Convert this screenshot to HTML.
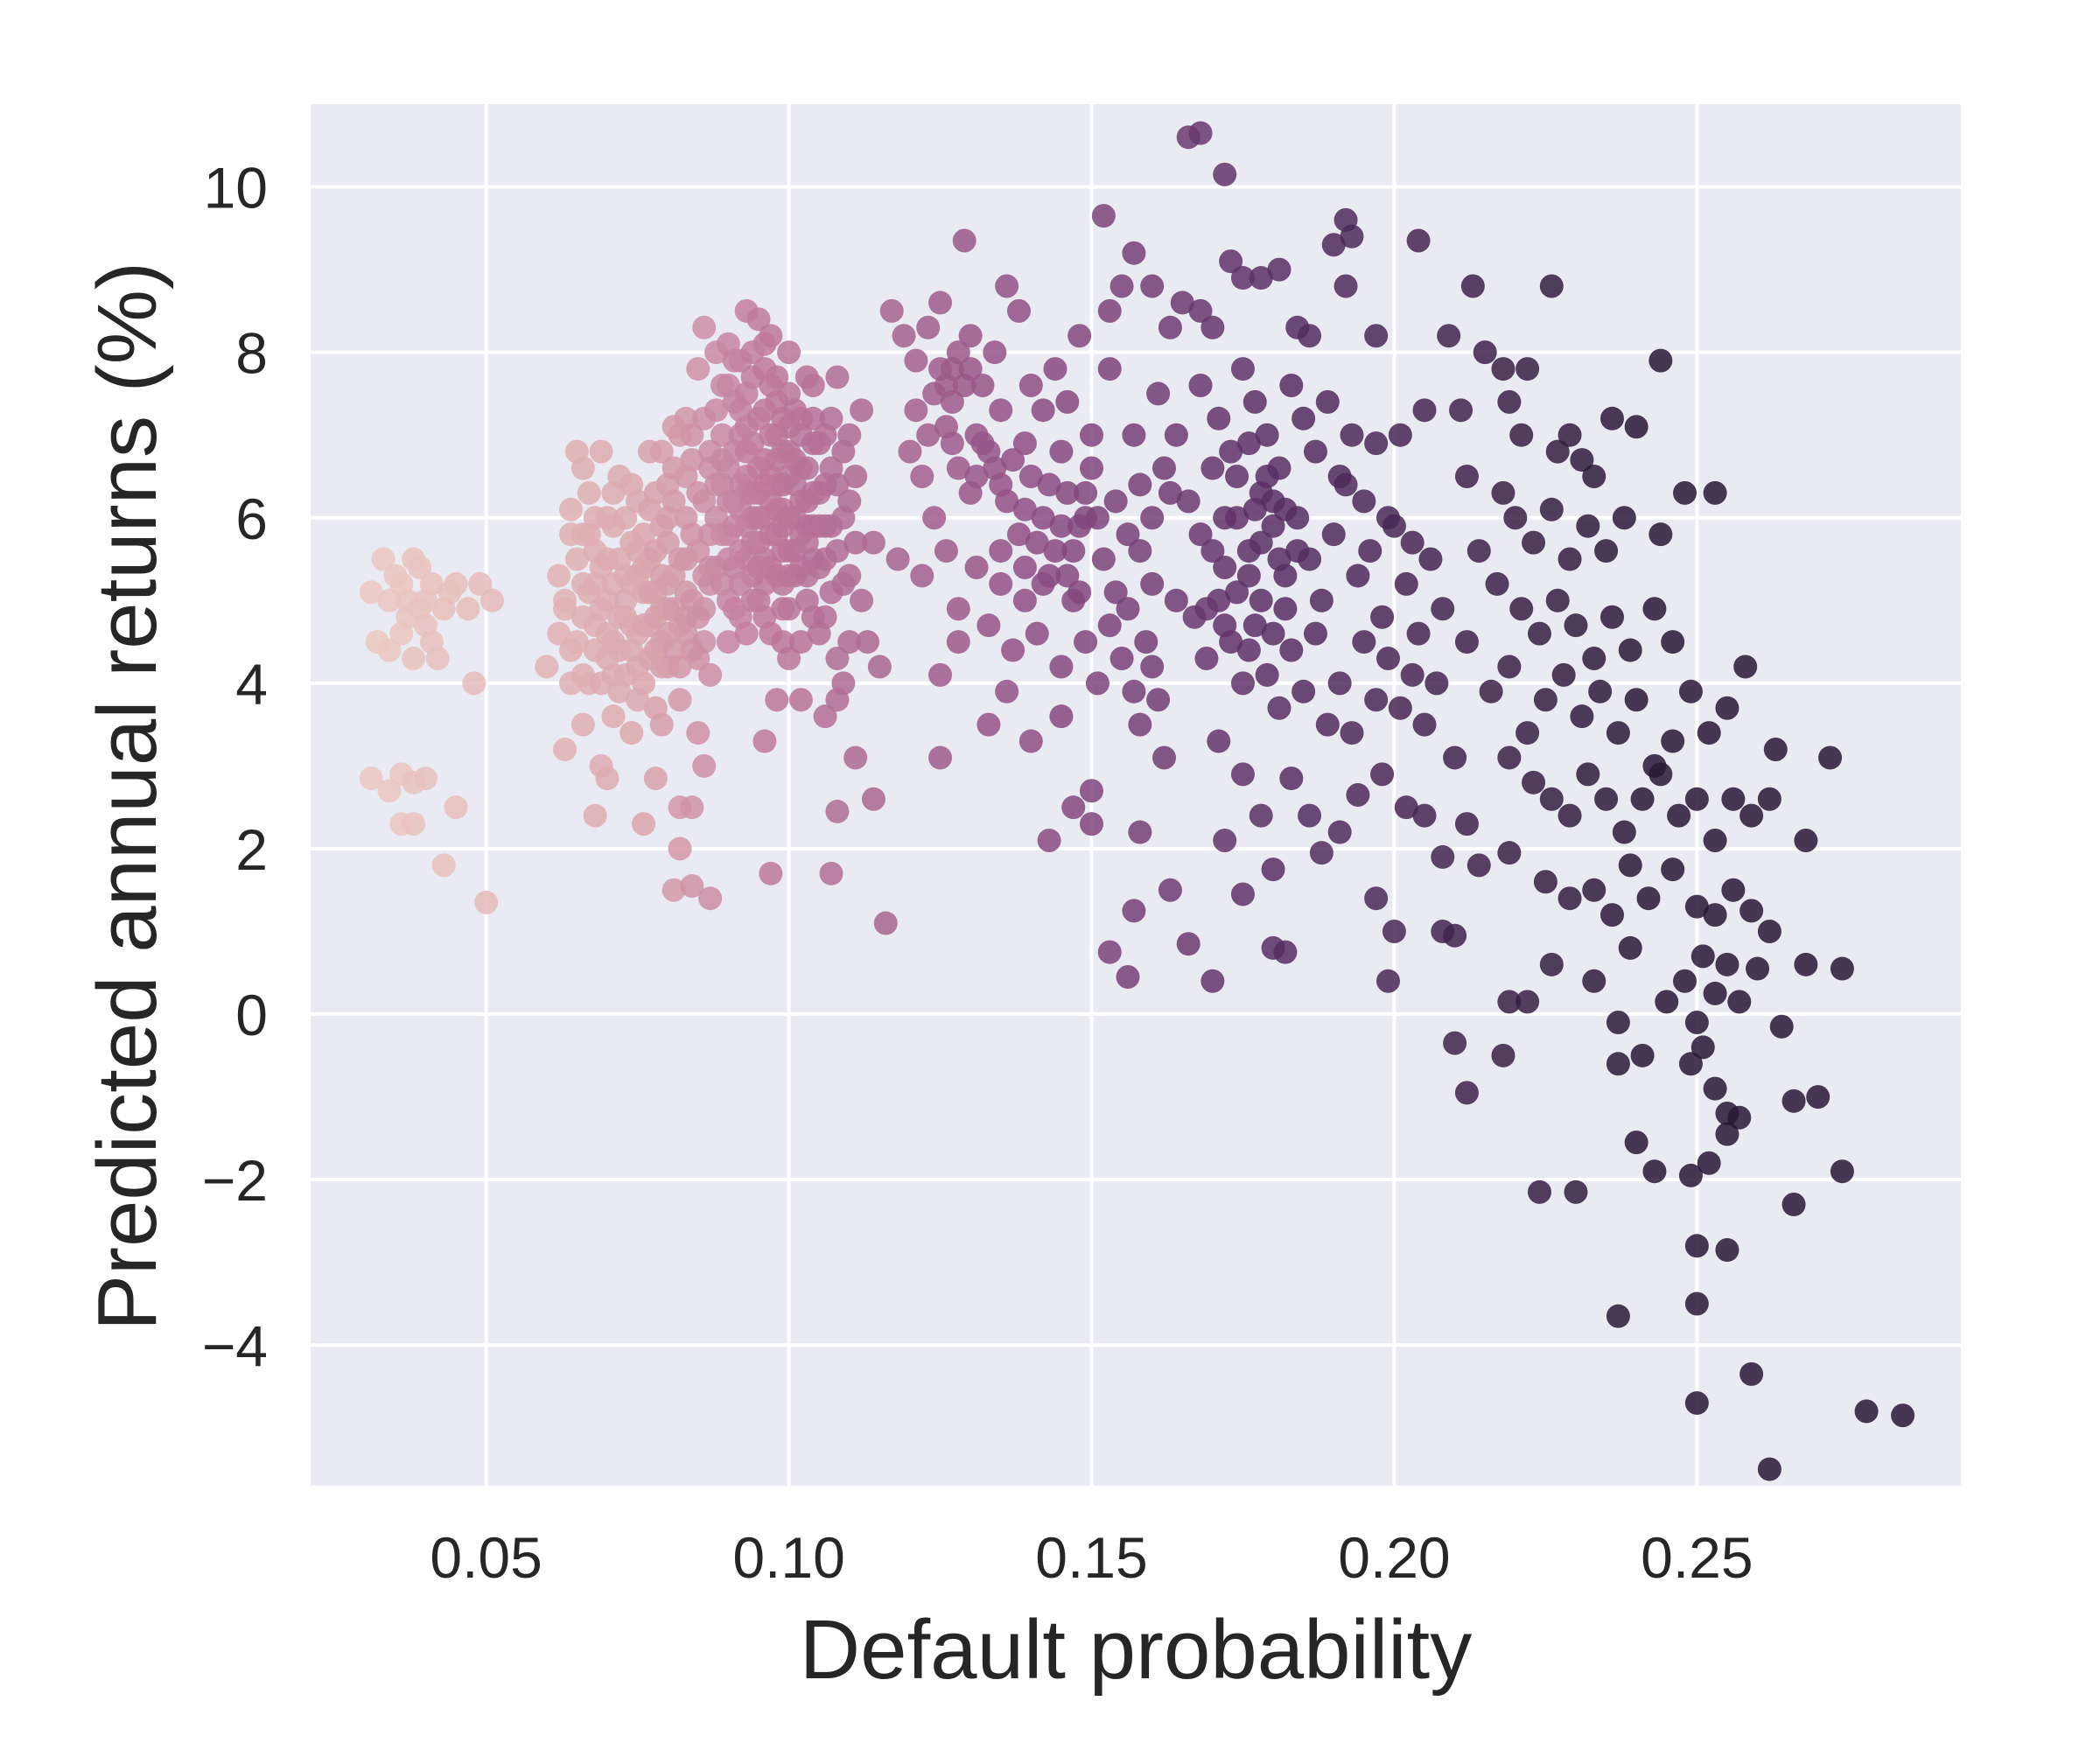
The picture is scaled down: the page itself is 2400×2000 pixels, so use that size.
<!DOCTYPE html>
<html><head><meta charset="utf-8">
<style>html,body{margin:0;padding:0;background:#fff}svg{display:block}text{font-family:"Liberation Sans",Arial,sans-serif;fill:#262626}</style>
</head><body>
<svg id="chart" width="2400" height="2000" viewBox="0 0 2400 2000" xmlns="http://www.w3.org/2000/svg">
<rect x="355" y="119" width="1886" height="1579" fill="#eaeaf2"/>
<g id="grid"></g>
<g id="points"></g>
<g id="ticks"></g>
<text x="1298" y="1918" font-size="96" text-anchor="middle">Default probability</text>
<text x="0" y="0" font-size="96" text-anchor="middle" transform="translate(178,910) rotate(-90)">Predicted annual returns (%)</text>
</svg>
<script>
const xTicks=[0.05,0.10,0.15,0.20,0.25];
const xTickLabels=["0.05","0.10","0.15","0.20","0.25"];
const yTicks=[-4,-2,0,2,4,6,8,10];
const yTickLabels=["\u22124","\u22122","0","2","4","6","8","10"];
const pointData="0.031 5.1,0.033 5.5,0.035 5.3,0.037 5.0,0.039 5.4,0.041 5.2,0.043 4.9,0.036 4.6,0.034 4.4,0.038 4.3,0.040 4.7,0.042 4.3,0.045 5.2,0.047 4.9,0.049 5.2,0.051 5.0,0.032 4.5,0.039 4.9,0.044 5.1,0.048 4.0,0.031 2.85,0.034 2.7,0.036 2.9,0.038 2.8,0.040 2.85,0.036 2.3,0.038 2.3,0.045 2.5,0.043 1.8,0.050 1.35,0.034 5.0,0.036 5.2,0.038 5.5,0.040 5.0,0.041 4.5,0.037 4.8,"+
"0.060 4.2,0.062 5.3,0.063 4.9,0.064 5.8,0.065 4.5,0.065 6.8,0.066 5.2,0.066 3.5,0.067 6.3,0.067 4.0,0.068 5.6,0.068 4.7,0.069 6.8,0.069 3.0,0.070 5.0,0.070 4.3,0.071 5.9,0.071 3.6,0.072 4.8,0.072 6.5,0.073 5.3,0.073 4.1,0.074 5.7,0.074 3.4,0.075 4.6,0.075 6.2,0.076 5.1,0.076 4.0,0.077 6.8,0.077 5.5,0.078 4.4,0.078 3.7,0.079 5.9,0.079 4.9,0.080 6.4,0.080 4.2,0.081 5.3,0.081 7.1,0.082 4.7,0.082 3.8,0.083 6.0,0.083 5.1,0.084 4.4,0.084 6.7,0.085 5.6,0.085 3.4,0.086 4.9,0.086 6.2,0.087 4.1,0.087 5.4,0.068 2.4,0.070 2.85,0.076 2.3,0.078 2.85,0.082 2.0,0.082 2.5,0.084 2.5,0.081 1.5,0.084 1.55,0.087 1.4,0.086 3.0,0.079 3.5,0.063 3.2,0.064 6.1,0.066 6.6,0.069 5.4,0.071 4.5,0.073 4.8,0.075 5.3,0.077 4.7,0.079 4.2,0.080 5.7,0.062 4.6,0.064 4.0,0.067 5.1,0.070 5.5,0.072 3.9,0.074 4.4,0.076 5.8,0.078 5.1,0.080 4.9,0.083 4.6,0.085 4.3,0.087 6.8,0.083 7.2,0.085 7.8,"+
"0.063 5.0,0.064 4.4,0.065 5.5,0.066 4.8,0.066 4.1,0.067 5.8,0.068 4.4,0.068 5.2,0.069 4.9,0.069 4.0,0.070 4.6,0.070 6.0,0.071 5.2,0.071 4.1,0.072 5.5,0.072 4.4,0.073 5.0,0.073 6.0,0.074 4.7,0.074 5.2,0.075 4.2,0.075 5.6,0.075 3.8,0.076 4.7,0.076 5.4,0.077 4.3,0.077 5.1,0.078 4.8,0.078 5.6,0.079 4.5,0.079 5.3,0.080 4.6,0.080 5.2,0.080 6.0,0.081 4.4,0.081 4.9,0.081 6.2,0.082 5.5,0.082 4.2,0.083 4.8,0.083 5.5,0.083 6.5,0.084 5.0,0.084 5.8,0.085 4.8,0.085 6.3,0.086 5.3,0.086 4.5,0.078 6.3,0.079 6.8,0.081 6.6,0.082 7.0,0.084 7.0,0.077 6.1,0.074 6.4,0.071 6.3,0.068 6.0,0.066 5.8,"+
"0.086 8.3,0.088 8.0,0.089 7.6,0.090 8.1,0.092 7.9,0.093 8.5,0.095 8.4,0.096 8.1,0.098 7.7,0.100 7.5,0.102 7.2,0.104 7.6,0.106 7.0,0.108 7.7,0.110 7.0,0.086 7.2,0.087 6.6,0.088 6.0,0.088 5.4,0.089 7.0,0.089 6.4,0.090 5.8,0.090 5.0,0.091 7.4,0.091 6.8,0.091 6.2,0.092 5.6,0.092 4.8,0.093 7.1,0.093 6.5,0.093 5.9,0.094 5.3,0.094 7.7,0.094 6.9,0.095 6.3,0.095 5.7,0.095 5.0,0.096 7.3,0.096 6.7,0.096 6.0,0.097 5.4,0.097 4.6,0.097 7.6,0.098 7.0,0.098 6.4,0.098 5.8,0.099 5.2,0.099 6.8,0.099 6.1,0.100 7.1,0.100 6.5,0.100 5.6,0.100 4.9,0.101 6.0,0.101 5.3,0.102 6.6,0.102 5.8,0.103 6.2,0.103 5.0,0.104 6.9,0.104 5.5,0.105 6.3,0.105 4.6,0.106 5.9,0.107 6.6,0.107 5.1,0.108 4.3,0.109 6.0,0.110 5.3,0.111 6.5,0.112 5.0,0.113 4.5,0.114 5.7,0.112 7.3,0.108 3.8,0.106 3.6,0.102 3.8,0.098 3.8,0.096 3.3,0.097 1.7,0.107 1.7,0.108 2.45,0.111 3.1,0.114 2.6,0.116 1.1,0.090 5.5,0.092 6.1,0.094 6.0,0.096 5.5,0.098 6.1,0.089 5.8,0.091 5.9,0.093 6.3,0.095 6.6,0.097 6.2,0.099 5.6,0.101 6.7,0.103 5.7,0.105 5.4,0.087 5.2,0.092 7.3,0.094 5.0,0.096 4.8,0.100 4.3,0.104 4.8,0.110 4.5,0.115 4.2,"+
"0.088 7.3,0.089 6.7,0.089 5.2,0.090 7.6,0.090 6.2,0.091 5.4,0.091 7.9,0.092 7.0,0.092 6.4,0.092 5.2,0.093 7.5,0.093 5.5,0.093 6.8,0.094 6.3,0.094 5.7,0.095 7.2,0.095 6.0,0.095 5.4,0.096 7.8,0.096 6.4,0.096 5.2,0.097 7.0,0.097 5.8,0.097 6.5,0.098 7.4,0.098 6.7,0.098 5.3,0.099 7.2,0.099 6.4,0.099 5.9,0.099 4.9,0.100 6.8,0.100 6.0,0.100 5.3,0.101 7.3,0.101 6.4,0.101 5.6,0.102 7.0,0.102 6.2,0.102 5.4,0.103 6.6,0.103 5.9,0.103 5.3,0.104 7.2,0.104 6.3,0.104 5.9,0.105 6.9,0.105 5.9,0.106 6.4,0.106 5.5,0.107 7.2,0.107 5.9,0.108 6.4,0.108 5.6,0.109 6.8,0.109 5.2,0.110 6.2,0.111 5.7,0.087 5.8,0.088 6.4,0.090 6.6,0.091 4.9,0.094 8.0,0.097 8.2,0.100 8.0,0.103 7.7,0.090 4.5,0.093 4.6,0.099 4.5,0.102 4.5,0.106 4.8,0.109 4.0,"+
"0.117 8.5,0.119 8.2,0.121 7.9,0.123 8.3,0.125 8.6,0.124 7.5,0.127 7.8,0.129 9.35,0.130 8.2,0.132 7.6,0.134 8.0,0.136 8.8,0.138 8.5,0.140 7.6,0.142 7.3,0.144 7.8,0.146 7.4,0.148 8.2,0.150 7.0,0.152 9.65,0.153 8.5,0.155 8.8,0.157 9.2,0.120 6.8,0.122 6.5,0.124 6.0,0.126 7.1,0.128 6.6,0.130 6.3,0.132 6.9,0.134 6.6,0.136 6.2,0.138 5.8,0.140 6.5,0.142 6.0,0.144 5.6,0.146 6.3,0.148 5.9,0.150 6.6,0.152 5.5,0.154 6.2,0.156 5.8,0.158 6.4,0.160 5.2,0.118 5.5,0.122 5.3,0.126 5.6,0.128 4.9,0.131 5.4,0.133 4.7,0.135 5.2,0.137 4.4,0.139 5.0,0.141 4.6,0.143 5.3,0.145 4.2,0.147 5.0,0.149 4.5,0.151 4.0,0.153 4.7,0.155 4.3,0.157 3.9,0.159 4.5,0.161 3.8,0.125 4.1,0.128 4.5,0.133 3.5,0.136 3.9,0.140 3.3,0.145 3.6,0.147 2.5,0.150 2.3,0.143 2.1,0.150 2.7,0.153 0.75,0.156 0.45,0.158 2.2,0.157 1.25,0.163 1.5,0.166 0.85,0.170 0.4,0.125 3.1,0.139 6.9,0.135 7.3,0.131 7.0,0.127 7.4,0.145 6.8,0.149 6.0,0.153 7.8,0.157 7.0,0.161 7.5,0.163 8.3,0.165 8.6,0.160 8.8,0.162 6.6,0.164 5.0,0.160 4.2,0.158 3.5,0.162 3.1,"+
"0.121 7.3,0.123 7.0,0.125 7.8,0.127 6.9,0.129 7.6,0.131 6.5,0.133 6.8,0.135 6.4,0.137 6.7,0.139 6.1,0.141 5.7,0.143 6.4,0.145 5.9,0.147 5.6,0.149 6.3,0.151 6.0,0.130 7.8,0.128 8.0,0.126 7.6,0.135 5.6,0.139 5.4,0.142 5.2,0.146 5.3,0.148 5.1,0.154 5.1,0.156 4.9,0.158 5.6,0.160 6.0,0.163 6.3,0.164 7.0,"+
"0.166 10.6,0.168 10.65,0.172 10.15,0.168 8.5,0.170 8.3,0.173 9.1,0.175 8.9,0.178 8.9,0.181 9.0,0.184 8.3,0.186 8.2,0.190 9.3,0.192 9.6,0.193 9.4,0.192 8.8,0.197 8.2,0.204 9.35,0.168 7.6,0.171 7.2,0.173 6.8,0.175 7.8,0.177 7.4,0.179 7.0,0.181 6.6,0.183 7.6,0.185 7.2,0.187 6.8,0.189 7.4,0.191 6.5,0.193 7.0,0.195 6.2,0.197 6.9,0.199 6.0,0.201 7.0,0.203 5.7,0.205 7.3,0.166 6.2,0.168 5.8,0.170 6.6,0.172 5.4,0.174 6.0,0.176 5.6,0.178 6.3,0.180 5.9,0.182 5.3,0.184 6.0,0.186 5.5,0.188 5.0,0.190 5.8,0.192 6.4,0.194 5.3,0.196 5.6,0.198 4.8,0.200 5.9,0.202 5.2,0.204 4.6,0.206 5.5,0.208 4.9,0.167 4.8,0.169 4.3,0.171 5.0,0.173 4.5,0.175 4.0,0.177 4.7,0.179 4.1,0.181 3.7,0.183 4.4,0.185 3.9,0.187 4.6,0.189 3.5,0.191 4.0,0.193 3.4,0.195 4.5,0.197 3.8,0.199 4.3,0.201 3.7,0.203 4.1,0.205 3.5,0.207 4.0,0.210 3.1,0.171 3.3,0.175 2.9,0.178 2.4,0.172 2.1,0.175 1.45,0.180 1.75,0.183 2.85,0.186 2.4,0.188 1.95,0.191 2.2,0.194 2.65,0.197 1.4,0.198 2.9,0.200 1.0,0.202 2.5,0.205 2.4,0.199 0.4,0.180 0.8,0.182 0.75,0.208 1.0,0.210 0.95,0.208 1.9,0.212 2.3,"+
"0.174 6.5,0.176 6.9,0.177 6.1,0.178 5.7,0.179 6.5,0.180 6.2,0.181 5.5,0.176 5.3,0.174 5.1,0.172 6.0,0.170 5.6,0.182 6.1,0.184 5.6,0.178 5.0,0.180 4.6,0.182 4.9,0.176 4.4,0.172 4.7,0.169 4.9,"+
"0.213 8.8,0.226 8.8,0.215 8.0,0.218 7.8,0.222 7.8,0.209 8.2,0.211 7.3,0.219 7.4,0.221 7.0,0.227 6.8,0.229 7.0,0.231 6.7,0.233 6.5,0.236 7.2,0.240 7.1,0.244 7.9,0.212 6.5,0.218 6.3,0.220 6.0,0.223 5.7,0.226 6.1,0.229 5.5,0.232 5.9,0.235 5.6,0.238 6.0,0.244 5.8,0.248 6.3,0.253 6.3,0.214 5.6,0.217 5.2,0.221 4.9,0.224 4.6,0.227 5.0,0.230 4.7,0.233 4.3,0.236 4.8,0.239 4.4,0.243 4.9,0.246 4.5,0.212 4.5,0.216 3.9,0.219 4.2,0.222 3.4,0.225 3.8,0.228 4.1,0.231 3.6,0.234 3.9,0.237 3.4,0.240 3.8,0.243 3.0,0.246 3.3,0.249 3.9,0.252 3.4,0.255 3.7,0.258 4.2,0.219 3.1,0.223 2.8,0.226 2.6,0.229 2.4,0.232 2.9,0.235 2.6,0.238 2.2,0.241 2.6,0.244 2.9,0.247 2.4,0.250 2.6,0.253 2.1,0.256 2.6,0.259 2.4,0.262 2.6,0.263 3.2,0.268 2.1,0.272 3.1,0.214 1.8,0.219 1.95,0.225 1.6,0.229 1.4,0.233 1.5,0.236 1.2,0.239 1.8,0.242 1.4,0.246 1.75,0.250 1.3,0.253 1.2,0.256 1.5,0.259 1.25,0.262 1.0,0.226 0.6,0.233 0.4,0.239 0.8,0.245 0.15,0.248 0.4,0.251 0.7,0.253 0.25,0.255 0.6,0.257 0.15,0.260 0.55,0.268 0.6,0.274 0.55,0.219 0.15,0.222 0.15,0.210 -0.35,0.218 -0.5,0.237 -0.1,0.237 -0.6,0.241 -0.5,0.249 -0.6,0.250 -0.1,0.251 -0.4,0.253 -0.9,0.255 -1.2,0.257 -1.25,0.264 -0.15,0.266 -1.05,0.270 -1.0,0.212 -0.95,0.224 -2.15,0.230 -2.15,0.240 -1.55,0.243 -1.9,0.249 -1.95,0.252 -1.8,0.255 -1.45,0.274 -1.9,0.250 -2.8,0.255 -2.85,0.266 -2.3,0.237 -3.65,0.250 -3.5,0.259 -4.35,0.250 -4.7,0.278 -4.8,0.284 -4.85,0.262 -5.5";
const probs=[],returns=[];
pointData.split(",").forEach(function(s){const p=s.trim().split(" ");probs.push(+p[0]);returns.push(+p[1]);});

const L=355,R=2241,T=119,B=1698;
const xMin=0.0210,xMax=0.2936,yMin=-5.7,yMax=11.0;
function sx(v){return L+(v-xMin)/(xMax-xMin)*(R-L);}
function sy(v){return B-(v-yMin)/(yMax-yMin)*(B-T);}
const NS="http://www.w3.org/2000/svg";
const stops=[[0.03,[236,201,194]],[0.075,[219,168,174]],[0.095,[192,122,156]],[0.14,[141,77,132]],[0.18,[88,46,100]],[0.24,[40,24,54]]];
function col(v){
  if(v<=stops[0][0])return stops[0][1];
  for(let i=1;i<stops.length;i++){if(v<=stops[i][0]){const a=stops[i-1],b=stops[i],t=(v-a[0])/(b[0]-a[0]);return a[1].map((c,k)=>Math.round(c+(b[1][k]-c)*t));}}
  return stops[stops.length-1][1];
}
const grid=document.getElementById('grid'),ticks=document.getElementById('ticks'),pts=document.getElementById('points');
xTicks.forEach(function(v,i){
  const ln=document.createElementNS(NS,'line');
  ln.setAttribute('x1',sx(v));ln.setAttribute('x2',sx(v));ln.setAttribute('y1',T);ln.setAttribute('y2',B);
  ln.setAttribute('stroke','#fff');ln.setAttribute('stroke-width','4');
  
  
  grid.appendChild(ln);
  const t=document.createElementNS(NS,'text');
  t.setAttribute('x',sx(v));t.setAttribute('y',1803);t.setAttribute('font-size','66');t.setAttribute('text-anchor','middle');
  t.textContent=xTickLabels[i];
  
  
  ticks.appendChild(t);
});
yTicks.forEach(function(v,i){
  const ln=document.createElementNS(NS,'line');
  ln.setAttribute('y1',sy(v));ln.setAttribute('y2',sy(v));ln.setAttribute('x1',L);ln.setAttribute('x2',R);
  ln.setAttribute('stroke','#fff');ln.setAttribute('stroke-width','4');
  
  
  grid.appendChild(ln);
  const t=document.createElementNS(NS,'text');
  t.setAttribute('x',306);t.setAttribute('y',sy(v)+24);t.setAttribute('font-size','66');t.setAttribute('text-anchor','end');
  t.textContent=yTickLabels[i];
  
  
  ticks.appendChild(t);
});
probs.forEach(function(p,i){
  const c=document.createElementNS(NS,'circle');
  c.setAttribute('cx',sx(p));c.setAttribute('cy',sy(returns[i]));c.setAttribute('r','13.5');
  const k=col(p);
  c.setAttribute('fill','rgb('+k.join(',')+')');c.setAttribute('fill-opacity','0.85');
  
  
  pts.appendChild(c);
});
</script>
</body></html>
